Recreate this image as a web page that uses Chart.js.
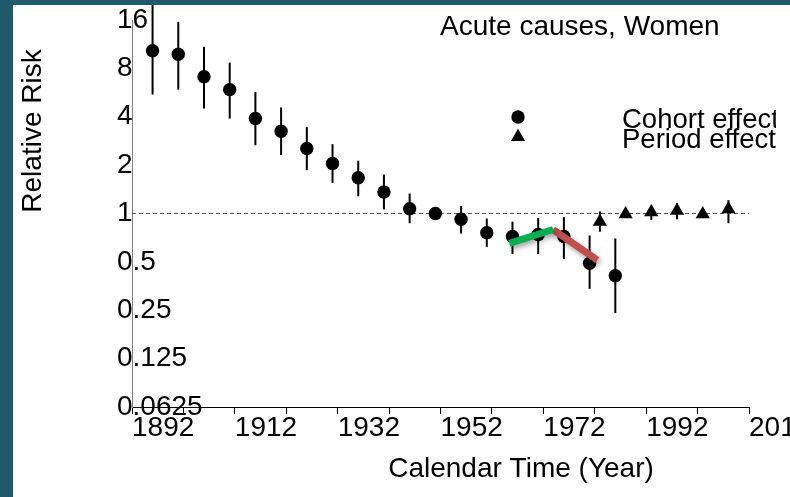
<!DOCTYPE html>
<html>
<head>
<meta charset="utf-8">
<script src="https://cdn.jsdelivr.net/npm/chart.js@4"></script>
<style>
  html, body { margin: 0; padding: 0; }
  body { width: 790px; height: 497px; background: #1f5b6b; overflow: hidden; position: relative; }
  #chart { position: absolute; left: 13px; top: 5px; background: #fff; }
</style>
</head>
<body>
<canvas id="chart" width="777" height="492"></canvas>
<script>
// Relative risk by birth cohort and by period
const cohortYears = [1896, 1901, 1906, 1911, 1916, 1921, 1926, 1931, 1936, 1941, 1946, 1951, 1956, 1961, 1966, 1971, 1976, 1981, 1986];
const cohortRR = [10.3, 9.8, 7.1, 5.9, 3.9, 3.25, 2.54, 2.05, 1.67, 1.36, 1.07, 1.0, 0.92, 0.76, 0.72, 0.74, 0.72, 0.49, 0.41];
const cohortLower = [5.5, 5.9, 4.5, 3.9, 2.66, 2.31, 1.86, 1.55, 1.28, 1.06, 0.87, 1.0, 0.75, 0.62, 0.56, 0.56, 0.52, 0.34, 0.24];
const cohortUpper = [22, 15.6, 10.9, 8.7, 5.7, 4.57, 3.46, 2.7, 2.13, 1.75, 1.33, 1.0, 1.11, 0.93, 0.89, 0.94, 0.95, 0.73, 0.70];

const periodYears = [1983, 1988, 1993, 1998, 2003, 2008];
const periodRR = [0.89, 0.99, 1.02, 1.04, 0.99, 1.065];
const periodLower = [0.77, 0.95, 0.91, 0.92, 0.98, 0.87];
const periodUpper = [1.03, 1.02, 1.12, 1.16, 1.0, 1.21];

// hand-drawn trend segments
const greenX = [1965.4, 1973.9];
const greenY = [0.651, 0.795];
const redX = [1973.9, 1982.5];
const redY = [0.795, 0.512];

const refX = [1892, 2012];
const refY = [1, 1];

const xTickValues = [1892, 1902, 1912, 1922, 1932, 1942, 1952, 1962, 1972, 1982, 1992, 2002, 2012];
const xTickLabels = ['1892', '', '1912', '', '1932', '', '1952', '', '1972', '', '1992', '', '2012'];
const yTickValues = [0.0625, 0.125, 0.25, 0.5, 1, 2, 4, 8, 16];
const yTickLabels = ['0.0625', '0.125', '0.25', '0.5', '1', '2', '4', '8', '16'];

const titleText = 'Acute causes, Women';
const legendLabels = ['Cohort effect', 'Period effect'];
const xTitle = 'Calendar Time (Year)';
const yTitle = 'Relative Risk';

const FONT = '"Liberation Sans", Arial, sans-serif';
Chart.defaults.font.family = FONT;
Chart.defaults.font.size = 28;
Chart.defaults.color = '#000';

function pts(xs, ys) {
    return xs.map((x, i) => ({ x: x, y: ys[i] }));
}

const errorBars = {
    id: 'errorBars',
    beforeDatasetsDraw(chart) {
        const { ctx, scales: { x, y } } = chart;
        ctx.save();
        ctx.strokeStyle = '#000';
        ctx.lineWidth = 2;
        const draw = (xs, lo, hi) => xs.forEach((yr, i) => {
            if (lo[i] === hi[i]) return;
            const px = x.getPixelForValue(yr);
            ctx.beginPath();
            ctx.moveTo(px, y.getPixelForValue(lo[i]));
            ctx.lineTo(px, y.getPixelForValue(hi[i]));
            ctx.stroke();
        });
        draw(cohortYears, cohortLower, cohortUpper);
        draw(periodYears, periodLower, periodUpper);
        ctx.restore();
    }
};

// soft shadow under the two trend segments
const trendShadow = {
    id: 'trendShadow',
    beforeDatasetDraw(chart, args) {
        if (args.index > 1) return;
        const ctx = chart.ctx;
        ctx.save();
        ctx.shadowColor = 'rgba(0,0,0,0.35)';
        ctx.shadowBlur = 5;
        ctx.shadowOffsetX = 2;
        ctx.shadowOffsetY = 3;
    },
    afterDatasetDraw(chart, args) {
        if (args.index > 1) return;
        chart.ctx.restore();
    }
};

function marker(ctx, style, radius, x, y) {
    if (Chart.helpers && Chart.helpers.drawPoint) {
        Chart.helpers.drawPoint(ctx, { pointStyle: style, radius: radius, rotation: 0, borderWidth: 0 }, x, y);
        return;
    }
    ctx.beginPath();
    if (style === 'circle') {
        ctx.arc(x, y, radius, 0, Math.PI * 2);
    } else {
        ctx.moveTo(x, y - radius);
        ctx.lineTo(x + radius * 0.866, y + radius / 2);
        ctx.lineTo(x - radius * 0.866, y + radius / 2);
        ctx.closePath();
    }
    ctx.fill();
}

const annotations = {
    id: 'annotations',
    afterDraw(chart) {
        const ctx = chart.ctx;
        ctx.save();
        ctx.fillStyle = '#000';
        ctx.font = '28px ' + FONT;
        ctx.textBaseline = 'middle';
        ctx.textAlign = 'left';
        ctx.fillText(titleText, 427, 22);

        // axis titles
        ctx.textAlign = 'center';
        ctx.fillText(xTitle, 508, 464);
        ctx.save();
        ctx.translate(20, 126);
        ctx.rotate(-Math.PI / 2);
        ctx.fillText(yTitle, 0, 0);
        ctx.restore();

        // legend, cut off at the right like the original slide
        marker(ctx, 'circle', 6.7, 505, 112);
        marker(ctx, 'triangle', 8.2, 505, 132);
        ctx.beginPath();
        ctx.rect(0, 0, 763, 492);
        ctx.clip();
        ctx.font = '27.5px ' + FONT;
        ctx.textAlign = 'left';
        ctx.fillText(legendLabels[0], 609, 115);
        ctx.fillText(legendLabels[1], 609, 135);
        ctx.restore();
    }
};

new Chart(document.getElementById('chart'), {
    type: 'scatter',
    data: {
        datasets: [{
            label: 'trend up',
            data: pts(greenX, greenY),
            showLine: true,
            borderColor: '#00b050',
            borderWidth: 7,
            pointRadius: 0
        }, {
            label: 'trend down',
            data: pts(redX, redY),
            showLine: true,
            borderColor: '#c0504d',
            borderWidth: 7,
            pointRadius: 0
        }, {
            label: legendLabels[0],
            data: pts(cohortYears, cohortRR),
            pointStyle: 'circle',
            pointRadius: 6.7,
            backgroundColor: '#000',
            borderColor: '#000',
            borderWidth: 0
        }, {
            label: legendLabels[1],
            data: pts(periodYears, periodRR),
            pointStyle: 'triangle',
            pointRadius: 8.2,
            backgroundColor: '#000',
            borderColor: '#000',
            borderWidth: 0
        }, {
            label: 'reference',
            data: pts(refX, refY),
            showLine: true,
            borderColor: '#555',
            borderWidth: 1,
            borderDash: [4, 3],
            pointRadius: 0
        }]
    },
    options: {
        responsive: false,
        animation: false,
        devicePixelRatio: 1,
        layout: {
            padding: { left: 0, top: 15, right: 41, bottom: 0 },
            autoPadding: false
        },
        plugins: {
            legend: { display: false },
            tooltip: { enabled: false }
        },
        scales: {
            x: {
                type: 'linear',
                min: 1892,
                max: 2012,
                afterBuildTicks: s => { s.ticks = xTickValues.map(v => ({ value: v })); },
                afterFit: s => { s.height = 90; s.paddingLeft = 0; s.paddingRight = 0; },
                ticks: {
                    autoSkip: false,
                    align: 'start',
                    maxRotation: 0,
                    padding: -3,
                    callback: v => xTickLabels[xTickValues.indexOf(v)]
                },
                grid: {
                    drawOnChartArea: false,
                    drawTicks: true,
                    tickLength: 7,
                    color: '#000',
                    lineWidth: 1
                },
                border: { color: '#000', width: 1 }
            },
            y: {
                type: 'logarithmic',
                min: 0.0625,
                max: 16,
                afterBuildTicks: s => { s.ticks = yTickValues.map(v => ({ value: v })); },
                afterFit: s => { s.width = 119; s.paddingTop = 0; s.paddingBottom = 0; },
                ticks: {
                    mirror: true,
                    crossAlign: 'near',
                    padding: -15,
                    callback: (v, i) => yTickLabels[i]
                },
                grid: { display: true, drawOnChartArea: false, drawTicks: false },
                border: { display: true, color: '#7f7f7f', width: 1 }
            }
        }
    },
    plugins: [errorBars, trendShadow, annotations]
});
</script>
</body>
</html>
